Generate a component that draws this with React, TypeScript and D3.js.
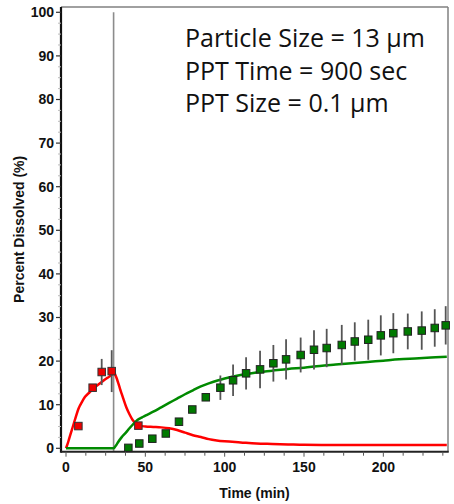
import React from "react";
import * as d3 from "d3";

// Observed data: red (initial phase) and green (post-precipitation)
const redTimes = [7.8, 16.8, 22.5, 28.8, 45.6];
const redValues = [5.1, 13.9, 17.5, 17.7, 5.2];
const redSD = [0, 0, 3.0, 4.8, 0];

const greenTimes = [39.3, 46.2, 54.4, 62.9, 71.2, 79.6, 88.1, 97.3, 105.3, 113.5, 122.3, 130.7, 138.7, 147.9, 156.3, 164.3, 173.8, 182, 190.5, 198.4, 206.3, 215.4, 224.2, 232.4, 239.3];
const greenValues = [0.1, 1.1, 2.2, 3.4, 6.1, 8.9, 11.7, 13.9, 15.6, 17.2, 18.1, 19.5, 20.4, 21.4, 22.6, 23.0, 23.7, 24.5, 24.9, 25.9, 26.4, 26.8, 27.0, 27.6, 28.2];
const greenSD = [0, 0, 0, 0, 0, 0, 0, 2.8, 3.6, 3.7, 4.3, 4.2, 4.6, 4.0, 4.5, 4.4, 4.6, 4.4, 4.6, 4.6, 4.6, 4.1, 4.4, 4.3, 4.4];

// Simulated curves
const redCurveT = [0, 1, 2, 3, 4, 5, 6, 8, 10, 12, 15, 17.5, 20, 22.5, 25, 27.5, 29, 30, 31, 32, 33, 34, 35, 36, 38, 40, 42, 44, 46, 50, 55, 60, 65, 70, 75, 80, 85, 90, 95, 100, 110, 120, 130, 140, 150, 175, 200, 240];
const redCurveV = [0, 1.0, 2.2, 3.4, 4.6, 5.8, 7.0, 9.2, 10.6, 11.8, 12.9, 13.8, 14.5, 15.2, 15.9, 16.5, 17.0, 17.6, 16.9, 16.0, 14.9, 13.7, 12.6, 11.5, 9.4, 7.8, 6.5, 5.7, 5.2, 5.0, 4.9, 4.8, 4.6, 4.2, 3.6, 3.0, 2.6, 2.1, 1.8, 1.6, 1.35, 1.1, 1.0, 0.9, 0.8, 0.75, 0.75, 0.75];

const greenCurveT = [0, 30, 31, 32, 33, 35, 38, 40, 42, 45, 48, 50, 55, 60, 65, 70, 75, 80, 85, 90, 95, 100, 110, 120, 130, 140, 150, 160, 170, 180, 190, 200, 210, 220, 230, 240];
const greenCurveV = [0, 0, 0.4, 0.9, 1.5, 2.5, 3.7, 4.6, 5.4, 6.5, 7.1, 7.5, 8.4, 9.4, 10.4, 11.4, 12.4, 13.3, 14.2, 14.9, 15.5, 16.0, 16.8, 17.4, 17.8, 18.2, 18.5, 18.9, 19.2, 19.5, 19.8, 20.1, 20.4, 20.6, 20.8, 21.0];

const yMajorTicks = [0, 10, 20, 30, 40, 50, 60, 70, 80, 90, 100];
const xLabelTicks = [0, 50, 100, 150, 200];
const pptTime = 30;
const annotations = ["Particle Size = 13 \u00b5m", "PPT Time = 900 sec", "PPT Size = 0.1 \u00b5m"];

const axisFont = "'Liberation Sans', Arial, sans-serif";

export default function App() {
  const frameL = 61, frameR = 448, frameT = 7, frameB = 451.7;
  const x = d3.scaleLinear().domain([0, 240]).range([66, 446.8]);
  const y = d3.scaleLinear().domain([0, 100]).range([448.3, 12.3]);

  const line = d3.line<[number, number]>().x(d => x(d[0])).y(d => y(d[1])).curve(d3.curveMonotoneX);
  const redPath = line(redCurveT.map((t, i) => [t, redCurveV[i]]))!;
  const greenPath = line(greenCurveT.map((t, i) => [t, greenCurveV[i]]))!;

  const xMinor = d3.range(0, 241, 12.5);
  const yMinor = d3.range(0, 100.1, 2.5).filter(v => v % 10 !== 0);
  const ms = 7.5;

  return (
    <svg width={454} height={504} style={{ position: "absolute", left: 0, top: 0, background: "#fff" }}>
      <rect x={0} y={0} width={454} height={504} fill="#fff" />
      {/* frame */}
      <line x1={frameL} x2={frameR} y1={frameT} y2={frameT} stroke="#808080" strokeWidth={1.5} />
      <line x1={frameR} x2={frameR} y1={frameT} y2={frameB} stroke="#808080" strokeWidth={1.5} />
      {/* ppt vertical line */}
      <line x1={x(pptTime)} x2={x(pptTime)} y1={y(100)} y2={frameB} stroke="#8c8c8c" strokeWidth={1.6} />
      {/* curves */}
      <path d={redPath} fill="none" stroke="#ff0000" strokeWidth={2.5} />
      <path d={greenPath} fill="none" stroke="#008a00" strokeWidth={2.5} />
      {/* error bars */}
      {redTimes.map((t, i) => redSD[i] > 0 && (
        <line key={"re" + i} x1={x(t)} x2={x(t)} y1={y(redValues[i] + redSD[i])} y2={y(redValues[i] - redSD[i])} stroke="#555" strokeWidth={1.8} />
      ))}
      {greenTimes.map((t, i) => greenSD[i] > 0 && (
        <line key={"ge" + i} x1={x(t)} x2={x(t)} y1={y(greenValues[i] + greenSD[i])} y2={y(greenValues[i] - greenSD[i])} stroke="#555" strokeWidth={1.8} />
      ))}
      {/* markers */}
      {redTimes.map((t, i) => (
        <rect key={"r" + i} x={x(t) - ms / 2} y={y(redValues[i]) - ms / 2} width={ms} height={ms} fill="#ee0000" stroke="#333" strokeWidth={1} />
      ))}
      {greenTimes.map((t, i) => (
        <rect key={"g" + i} x={x(t) - ms / 2} y={y(greenValues[i]) - ms / 2} width={ms} height={ms} fill="#007a00" stroke="#222" strokeWidth={1} />
      ))}
      {/* axes */}
      <line x1={frameL} x2={frameL} y1={frameT} y2={frameB + 1} stroke="#111" strokeWidth={2.2} />
      <line x1={frameL} x2={frameR + 0.75} y1={frameB} y2={frameB} stroke="#222" strokeWidth={2} />
      {yMinor.map(v => (
        <line key={"ym" + v} x1={frameL - 3} x2={frameL} y1={y(v)} y2={y(v)} stroke="#bbb" strokeWidth={1} />
      ))}
      {yMajorTicks.map(v => (
        <g key={"y" + v}>
          <line x1={frameL - 5} x2={frameL} y1={y(v)} y2={y(v)} stroke="#333" strokeWidth={1.2} />
          <text x={54} y={y(v)} dy="0.35em" textAnchor="end" fontFamily={axisFont} fontWeight="bold" fontSize={14} fill="#111">{v}</text>
        </g>
      ))}
      {xMinor.map(v => (
        <line key={"xm" + v} x1={x(v)} x2={x(v)} y1={frameB} y2={frameB + (v % 50 === 0 ? 5 : 4)} stroke="#555" strokeWidth={1} />
      ))}
      {xLabelTicks.map(v => (
        <text key={"x" + v} x={x(v)} y={472} textAnchor="middle" fontFamily={axisFont} fontWeight="bold" fontSize={14} fill="#111">{v}</text>
      ))}
      <text x={(frameL + frameR) / 2} y={498} textAnchor="middle" fontFamily={axisFont} fontWeight="bold" fontSize={14} fill="#111">Time (min)</text>
      <text transform={`translate(24, ${(frameT + frameB) / 2}) rotate(-90)`} textAnchor="middle" fontFamily={axisFont} fontWeight="bold" fontSize={14} fill="#111">Percent Dissolved (%)</text>
      {/* annotation */}
      {annotations.map((s, i) => (
        <text key={"a" + i} x={185} y={47 + i * 32.5} fontFamily="'Open Sans', Lato, sans-serif" fontSize={25} fill="#111">{s}</text>
      ))}
    </svg>
  );
}
